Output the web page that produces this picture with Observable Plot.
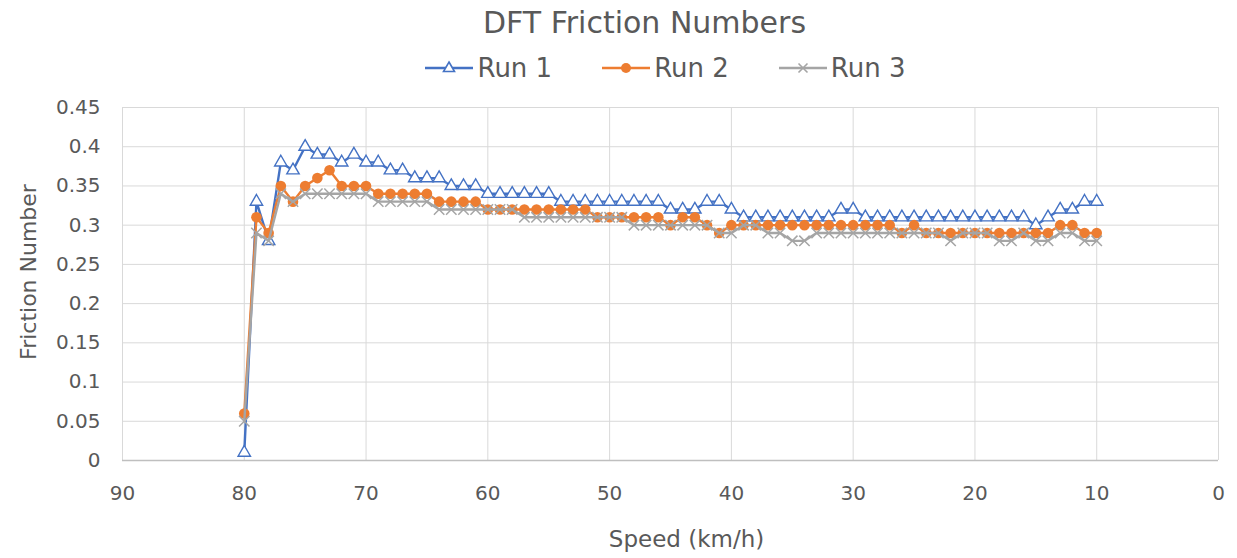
<!DOCTYPE html>
<html>
<head>
<meta charset="utf-8">
<script src="https://cdn.jsdelivr.net/npm/d3@7"></script>
<script src="https://cdn.jsdelivr.net/npm/@observablehq/plot@0.6"></script>
<style>
  html, body { margin: 0; padding: 0; background: #fff; }
  body { width: 1237px; height: 558px; overflow: hidden; font-family: "DejaVu Sans", sans-serif; color: #595959; }
  #title { height: 45px; line-height: 45px; text-align: center; font-size: 30px; color: #595959; padding-left: 52px; box-sizing: border-box; }
  #legend { height: 45px; display: flex; justify-content: center; align-items: center; gap: 50px; font-size: 26px; color: #595959; padding-left: 94px; box-sizing: border-box; }
  .item { display: flex; align-items: center; gap: 4px; }
  #chart svg { display: block; }
</style>
</head>
<body>
<div id="title">DFT Friction Numbers</div>
<div id="legend"></div>
<div id="chart"></div>
<script>
// Speed (km/h), one reading per km/h from 80 down to 10
const speeds = [80,79,78,77,76,75,74,73,72,71,
                70,69,68,67,66,65,64,63,62,61,
                60,59,58,57,56,55,54,53,52,51,
                50,49,48,47,46,45,44,43,42,41,
                40,39,38,37,36,35,34,33,32,31,
                30,29,28,27,26,25,24,23,22,21,
                20,19,18,17,16,15,14,13,12,11,
                10];
const run1 = [0.01,0.33,0.28,0.38,0.37,0.40,0.39,0.39,0.38,0.39,
              0.38,0.38,0.37,0.37,0.36,0.36,0.36,0.35,0.35,0.35,
              0.34,0.34,0.34,0.34,0.34,0.34,0.33,0.33,0.33,0.33,
              0.33,0.33,0.33,0.33,0.33,0.32,0.32,0.32,0.33,0.33,
              0.32,0.31,0.31,0.31,0.31,0.31,0.31,0.31,0.31,0.32,
              0.32,0.31,0.31,0.31,0.31,0.31,0.31,0.31,0.31,0.31,
              0.31,0.31,0.31,0.31,0.31,0.30,0.31,0.32,0.32,0.33,
              0.33];
const run2 = [0.06,0.31,0.29,0.35,0.33,0.35,0.36,0.37,0.35,0.35,
              0.35,0.34,0.34,0.34,0.34,0.34,0.33,0.33,0.33,0.33,
              0.32,0.32,0.32,0.32,0.32,0.32,0.32,0.32,0.32,0.31,
              0.31,0.31,0.31,0.31,0.31,0.30,0.31,0.31,0.30,0.29,
              0.30,0.30,0.30,0.30,0.30,0.30,0.30,0.30,0.30,0.30,
              0.30,0.30,0.30,0.30,0.29,0.30,0.29,0.29,0.29,0.29,
              0.29,0.29,0.29,0.29,0.29,0.29,0.29,0.30,0.30,0.29,
              0.29];
const run3 = [0.05,0.29,0.28,0.34,0.33,0.34,0.34,0.34,0.34,0.34,
              0.34,0.33,0.33,0.33,0.33,0.33,0.32,0.32,0.32,0.32,
              0.32,0.32,0.32,0.31,0.31,0.31,0.31,0.31,0.31,0.31,
              0.31,0.31,0.30,0.30,0.30,0.30,0.30,0.30,0.30,0.29,
              0.29,0.30,0.30,0.29,0.29,0.28,0.28,0.29,0.29,0.29,
              0.29,0.29,0.29,0.29,0.29,0.29,0.29,0.29,0.28,0.29,
              0.29,0.29,0.28,0.28,0.29,0.28,0.28,0.29,0.29,0.28,
              0.28];
const seriesNames = ["Run 1", "Run 2", "Run 3"];
const seriesColors = ["#4472C4", "#ED7D31", "#A5A5A5"];
const xTicks = [90,80,70,60,50,40,30,20,10,0];
const yTicks = [0,0.05,0.1,0.15,0.2,0.25,0.3,0.35,0.4,0.45];
const yTickLabels = ["0","0.05","0.1","0.15","0.2","0.25","0.3","0.35","0.4","0.45"];
const xTitle = "Speed (km/h)";
const yTitle = "Friction Number";

const allRuns = [run1, run2, run3];
const rows = [];
allRuns.forEach((vals, s) => vals.forEach((v, i) => rows.push({speed: speeds[i], value: v, run: seriesNames[s]})));
const byRun = name => rows.filter(d => d.run === name);

// Legend (HTML)
const legend = document.getElementById("legend");
const markerSvg = [
  '<polygon points="24,5 29.5,14.5 18.5,14.5" fill="#fff" stroke="#4472C4" stroke-width="1.6"/>',
  '<circle cx="24" cy="11" r="5" fill="#ED7D31"/>',
  '<path d="M19.5,6.5L28.5,15.5M28.5,6.5L19.5,15.5" stroke="#A5A5A5" stroke-width="1.6"/>'
];
seriesNames.forEach((n, i) => {
  const el = document.createElement("div");
  el.className = "item";
  el.innerHTML = `<svg width="48" height="22"><line x1="0" x2="48" y1="11" y2="11" stroke="${seriesColors[i]}" stroke-width="2.6"/>${markerSvg[i]}</svg><span>${n}</span>`;
  legend.appendChild(el);
});

const font = "DejaVu Sans";
const marks = [
  Plot.gridX(xTicks, {stroke: "#d9d9d9", strokeOpacity: 1, strokeWidth: 1}),
  Plot.gridY(yTicks.slice(1), {stroke: "#d9d9d9", strokeOpacity: 1, strokeWidth: 1}),
  Plot.ruleY([0], {stroke: "#bfbfbf", strokeWidth: 1.3}),
  Plot.axisX(xTicks, {tickSize: 0, tickPadding: 25, fontSize: 20, fill: "#595959", label: null}),
  Plot.axisY(yTicks, {tickSize: 0, tickPadding: 22, fontSize: 20, fill: "#595959", label: null,
    tickFormat: (d) => yTickLabels[yTicks.indexOf(d)]}),
  Plot.text([xTitle], {frameAnchor: "bottom", dy: 86, dx: 16, fontSize: 23, fill: "#595959"}),
  Plot.text([yTitle], {frameAnchor: "left", dx: -94, dy: -12, rotate: -90, textAnchor: "middle", fontSize: 22, fill: "#595959"})
];
// Run 1
marks.push(Plot.line(byRun("Run 1"), {x: "speed", y: "value", stroke: seriesColors[0], strokeWidth: 2.4}));
marks.push(Plot.dot(byRun("Run 1"), {x: "speed", y: "value", symbol: "triangle", r: 4.6, stroke: seriesColors[0], fill: "#fff", strokeWidth: 1.4}));
// Run 2
marks.push(Plot.line(byRun("Run 2"), {x: "speed", y: "value", stroke: seriesColors[1], strokeWidth: 2.4}));
marks.push(Plot.dot(byRun("Run 2"), {x: "speed", y: "value", symbol: "circle", r: 5.3, fill: seriesColors[1], stroke: "none"}));
// Run 3
marks.push(Plot.line(byRun("Run 3"), {x: "speed", y: "value", stroke: seriesColors[2], strokeWidth: 2.4}));
marks.push(Plot.dot(byRun("Run 3"), {x: "speed", y: "value", symbol: "times", r: 4.8, stroke: seriesColors[2], strokeWidth: 1.5}));

const chart = Plot.plot({
  width: 1237,
  height: 468,
  marginTop: 17,
  marginBottom: 98,
  marginLeft: 122,
  marginRight: 19,
  style: {fontFamily: font, background: "#fff", color: "#595959", overflow: "visible"},
  x: {domain: [90, 0], axis: null},
  y: {domain: [0, 0.45], axis: null},
  marks
});
document.getElementById("chart").appendChild(chart);
</script>
</body>
</html>
